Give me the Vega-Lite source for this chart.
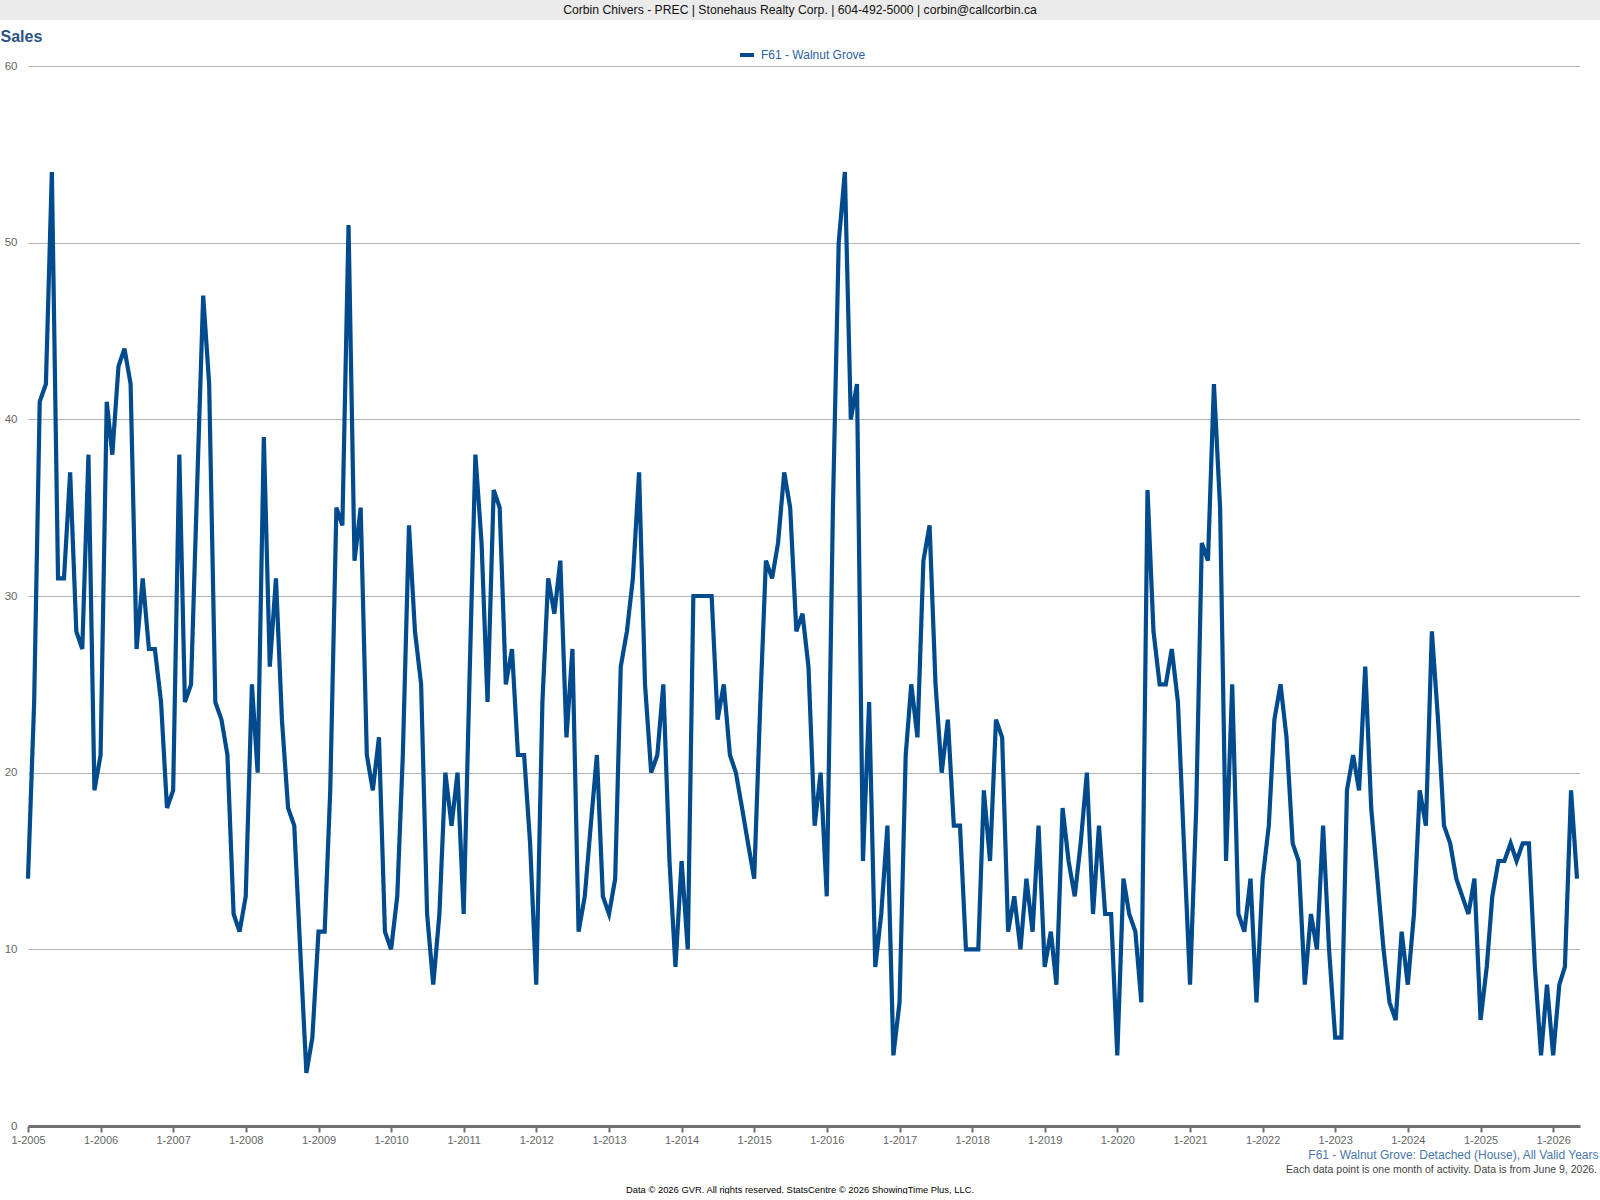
{
  "$schema": "https://vega.github.io/schema/vega-lite/v6.json",
  "background": "white",
  "padding": 0,
  "config": {"font": "Liberation Sans", "view": {"stroke": null}},
  "datasets": {
    "banner": [
      {"label": "Corbin Chivers - PREC | Stonehaus Realty Corp. | 604-492-5000 | corbin@callcorbin.ca"}
    ],
    "sales": [
      {"month": "2005-01-01", "sales": 14}, {"month": "2005-02-01", "sales": 24}, {"month": "2005-03-01", "sales": 41}, {"month": "2005-04-01", "sales": 42},
      {"month": "2005-05-01", "sales": 54}, {"month": "2005-06-01", "sales": 31}, {"month": "2005-07-01", "sales": 31}, {"month": "2005-08-01", "sales": 37},
      {"month": "2005-09-01", "sales": 28}, {"month": "2005-10-01", "sales": 27}, {"month": "2005-11-01", "sales": 38}, {"month": "2005-12-01", "sales": 19},
      {"month": "2006-01-01", "sales": 21}, {"month": "2006-02-01", "sales": 41}, {"month": "2006-03-01", "sales": 38}, {"month": "2006-04-01", "sales": 43},
      {"month": "2006-05-01", "sales": 44}, {"month": "2006-06-01", "sales": 42}, {"month": "2006-07-01", "sales": 27}, {"month": "2006-08-01", "sales": 31},
      {"month": "2006-09-01", "sales": 27}, {"month": "2006-10-01", "sales": 27}, {"month": "2006-11-01", "sales": 24}, {"month": "2006-12-01", "sales": 18},
      {"month": "2007-01-01", "sales": 19}, {"month": "2007-02-01", "sales": 38}, {"month": "2007-03-01", "sales": 24}, {"month": "2007-04-01", "sales": 25},
      {"month": "2007-05-01", "sales": 36}, {"month": "2007-06-01", "sales": 47}, {"month": "2007-07-01", "sales": 42}, {"month": "2007-08-01", "sales": 24},
      {"month": "2007-09-01", "sales": 23}, {"month": "2007-10-01", "sales": 21}, {"month": "2007-11-01", "sales": 12}, {"month": "2007-12-01", "sales": 11},
      {"month": "2008-01-01", "sales": 13}, {"month": "2008-02-01", "sales": 25}, {"month": "2008-03-01", "sales": 20}, {"month": "2008-04-01", "sales": 39},
      {"month": "2008-05-01", "sales": 26}, {"month": "2008-06-01", "sales": 31}, {"month": "2008-07-01", "sales": 23}, {"month": "2008-08-01", "sales": 18},
      {"month": "2008-09-01", "sales": 17}, {"month": "2008-10-01", "sales": 10}, {"month": "2008-11-01", "sales": 3}, {"month": "2008-12-01", "sales": 5},
      {"month": "2009-01-01", "sales": 11}, {"month": "2009-02-01", "sales": 11}, {"month": "2009-03-01", "sales": 19}, {"month": "2009-04-01", "sales": 35},
      {"month": "2009-05-01", "sales": 34}, {"month": "2009-06-01", "sales": 51}, {"month": "2009-07-01", "sales": 32}, {"month": "2009-08-01", "sales": 35},
      {"month": "2009-09-01", "sales": 21}, {"month": "2009-10-01", "sales": 19}, {"month": "2009-11-01", "sales": 22}, {"month": "2009-12-01", "sales": 11},
      {"month": "2010-01-01", "sales": 10}, {"month": "2010-02-01", "sales": 13}, {"month": "2010-03-01", "sales": 21}, {"month": "2010-04-01", "sales": 34},
      {"month": "2010-05-01", "sales": 28}, {"month": "2010-06-01", "sales": 25}, {"month": "2010-07-01", "sales": 12}, {"month": "2010-08-01", "sales": 8},
      {"month": "2010-09-01", "sales": 12}, {"month": "2010-10-01", "sales": 20}, {"month": "2010-11-01", "sales": 17}, {"month": "2010-12-01", "sales": 20},
      {"month": "2011-01-01", "sales": 12}, {"month": "2011-02-01", "sales": 26}, {"month": "2011-03-01", "sales": 38}, {"month": "2011-04-01", "sales": 33},
      {"month": "2011-05-01", "sales": 24}, {"month": "2011-06-01", "sales": 36}, {"month": "2011-07-01", "sales": 35}, {"month": "2011-08-01", "sales": 25},
      {"month": "2011-09-01", "sales": 27}, {"month": "2011-10-01", "sales": 21}, {"month": "2011-11-01", "sales": 21}, {"month": "2011-12-01", "sales": 16},
      {"month": "2012-01-01", "sales": 8}, {"month": "2012-02-01", "sales": 24}, {"month": "2012-03-01", "sales": 31}, {"month": "2012-04-01", "sales": 29},
      {"month": "2012-05-01", "sales": 32}, {"month": "2012-06-01", "sales": 22}, {"month": "2012-07-01", "sales": 27}, {"month": "2012-08-01", "sales": 11},
      {"month": "2012-09-01", "sales": 13}, {"month": "2012-10-01", "sales": 17}, {"month": "2012-11-01", "sales": 21}, {"month": "2012-12-01", "sales": 13},
      {"month": "2013-01-01", "sales": 12}, {"month": "2013-02-01", "sales": 14}, {"month": "2013-03-01", "sales": 26}, {"month": "2013-04-01", "sales": 28},
      {"month": "2013-05-01", "sales": 31}, {"month": "2013-06-01", "sales": 37}, {"month": "2013-07-01", "sales": 25}, {"month": "2013-08-01", "sales": 20},
      {"month": "2013-09-01", "sales": 21}, {"month": "2013-10-01", "sales": 25}, {"month": "2013-11-01", "sales": 15}, {"month": "2013-12-01", "sales": 9},
      {"month": "2014-01-01", "sales": 15}, {"month": "2014-02-01", "sales": 10}, {"month": "2014-03-01", "sales": 30}, {"month": "2014-04-01", "sales": 30},
      {"month": "2014-05-01", "sales": 30}, {"month": "2014-06-01", "sales": 30}, {"month": "2014-07-01", "sales": 23}, {"month": "2014-08-01", "sales": 25},
      {"month": "2014-09-01", "sales": 21}, {"month": "2014-10-01", "sales": 20}, {"month": "2014-11-01", "sales": 18}, {"month": "2014-12-01", "sales": 16},
      {"month": "2015-01-01", "sales": 14}, {"month": "2015-02-01", "sales": 24}, {"month": "2015-03-01", "sales": 32}, {"month": "2015-04-01", "sales": 31},
      {"month": "2015-05-01", "sales": 33}, {"month": "2015-06-01", "sales": 37}, {"month": "2015-07-01", "sales": 35}, {"month": "2015-08-01", "sales": 28},
      {"month": "2015-09-01", "sales": 29}, {"month": "2015-10-01", "sales": 26}, {"month": "2015-11-01", "sales": 17}, {"month": "2015-12-01", "sales": 20},
      {"month": "2016-01-01", "sales": 13}, {"month": "2016-02-01", "sales": 35}, {"month": "2016-03-01", "sales": 50}, {"month": "2016-04-01", "sales": 54},
      {"month": "2016-05-01", "sales": 40}, {"month": "2016-06-01", "sales": 42}, {"month": "2016-07-01", "sales": 15}, {"month": "2016-08-01", "sales": 24},
      {"month": "2016-09-01", "sales": 9}, {"month": "2016-10-01", "sales": 12}, {"month": "2016-11-01", "sales": 17}, {"month": "2016-12-01", "sales": 4},
      {"month": "2017-01-01", "sales": 7}, {"month": "2017-02-01", "sales": 21}, {"month": "2017-03-01", "sales": 25}, {"month": "2017-04-01", "sales": 22},
      {"month": "2017-05-01", "sales": 32}, {"month": "2017-06-01", "sales": 34}, {"month": "2017-07-01", "sales": 25}, {"month": "2017-08-01", "sales": 20},
      {"month": "2017-09-01", "sales": 23}, {"month": "2017-10-01", "sales": 17}, {"month": "2017-11-01", "sales": 17}, {"month": "2017-12-01", "sales": 10},
      {"month": "2018-01-01", "sales": 10}, {"month": "2018-02-01", "sales": 10}, {"month": "2018-03-01", "sales": 19}, {"month": "2018-04-01", "sales": 15},
      {"month": "2018-05-01", "sales": 23}, {"month": "2018-06-01", "sales": 22}, {"month": "2018-07-01", "sales": 11}, {"month": "2018-08-01", "sales": 13},
      {"month": "2018-09-01", "sales": 10}, {"month": "2018-10-01", "sales": 14}, {"month": "2018-11-01", "sales": 11}, {"month": "2018-12-01", "sales": 17},
      {"month": "2019-01-01", "sales": 9}, {"month": "2019-02-01", "sales": 11}, {"month": "2019-03-01", "sales": 8}, {"month": "2019-04-01", "sales": 18},
      {"month": "2019-05-01", "sales": 15}, {"month": "2019-06-01", "sales": 13}, {"month": "2019-07-01", "sales": 16}, {"month": "2019-08-01", "sales": 20},
      {"month": "2019-09-01", "sales": 12}, {"month": "2019-10-01", "sales": 17}, {"month": "2019-11-01", "sales": 12}, {"month": "2019-12-01", "sales": 12},
      {"month": "2020-01-01", "sales": 4}, {"month": "2020-02-01", "sales": 14}, {"month": "2020-03-01", "sales": 12}, {"month": "2020-04-01", "sales": 11},
      {"month": "2020-05-01", "sales": 7}, {"month": "2020-06-01", "sales": 36}, {"month": "2020-07-01", "sales": 28}, {"month": "2020-08-01", "sales": 25},
      {"month": "2020-09-01", "sales": 25}, {"month": "2020-10-01", "sales": 27}, {"month": "2020-11-01", "sales": 24}, {"month": "2020-12-01", "sales": 16},
      {"month": "2021-01-01", "sales": 8}, {"month": "2021-02-01", "sales": 18}, {"month": "2021-03-01", "sales": 33}, {"month": "2021-04-01", "sales": 32},
      {"month": "2021-05-01", "sales": 42}, {"month": "2021-06-01", "sales": 35}, {"month": "2021-07-01", "sales": 15}, {"month": "2021-08-01", "sales": 25},
      {"month": "2021-09-01", "sales": 12}, {"month": "2021-10-01", "sales": 11}, {"month": "2021-11-01", "sales": 14}, {"month": "2021-12-01", "sales": 7},
      {"month": "2022-01-01", "sales": 14}, {"month": "2022-02-01", "sales": 17}, {"month": "2022-03-01", "sales": 23}, {"month": "2022-04-01", "sales": 25},
      {"month": "2022-05-01", "sales": 22}, {"month": "2022-06-01", "sales": 16}, {"month": "2022-07-01", "sales": 15}, {"month": "2022-08-01", "sales": 8},
      {"month": "2022-09-01", "sales": 12}, {"month": "2022-10-01", "sales": 10}, {"month": "2022-11-01", "sales": 17}, {"month": "2022-12-01", "sales": 10},
      {"month": "2023-01-01", "sales": 5}, {"month": "2023-02-01", "sales": 5}, {"month": "2023-03-01", "sales": 19}, {"month": "2023-04-01", "sales": 21},
      {"month": "2023-05-01", "sales": 19}, {"month": "2023-06-01", "sales": 26}, {"month": "2023-07-01", "sales": 18}, {"month": "2023-08-01", "sales": 14},
      {"month": "2023-09-01", "sales": 10}, {"month": "2023-10-01", "sales": 7}, {"month": "2023-11-01", "sales": 6}, {"month": "2023-12-01", "sales": 11},
      {"month": "2024-01-01", "sales": 8}, {"month": "2024-02-01", "sales": 12}, {"month": "2024-03-01", "sales": 19}, {"month": "2024-04-01", "sales": 17},
      {"month": "2024-05-01", "sales": 28}, {"month": "2024-06-01", "sales": 23}, {"month": "2024-07-01", "sales": 17}, {"month": "2024-08-01", "sales": 16},
      {"month": "2024-09-01", "sales": 14}, {"month": "2024-10-01", "sales": 13}, {"month": "2024-11-01", "sales": 12}, {"month": "2024-12-01", "sales": 14},
      {"month": "2025-01-01", "sales": 6}, {"month": "2025-02-01", "sales": 9}, {"month": "2025-03-01", "sales": 13}, {"month": "2025-04-01", "sales": 15},
      {"month": "2025-05-01", "sales": 15}, {"month": "2025-06-01", "sales": 16}, {"month": "2025-07-01", "sales": 15}, {"month": "2025-08-01", "sales": 16},
      {"month": "2025-09-01", "sales": 16}, {"month": "2025-10-01", "sales": 9}, {"month": "2025-11-01", "sales": 4}, {"month": "2025-12-01", "sales": 8},
      {"month": "2026-01-01", "sales": 4}, {"month": "2026-02-01", "sales": 8}, {"month": "2026-03-01", "sales": 9}, {"month": "2026-04-01", "sales": 19},
      {"month": "2026-05-01", "sales": 14}
    ]
  },
  "title": {
    "text": "Data © 2026 GVR. All rights reserved. StatsCentre © 2026 ShowingTime Plus, LLC.",
    "orient": "bottom",
    "anchor": "middle",
    "fontSize": 9.4,
    "fontWeight": "normal",
    "color": "#000000",
    "offset": 10
  },
  "bounds": "flush",
  "spacing": 46,
  "resolve": {"legend": {"color": "independent"}},
  "vconcat": [
    {
      "width": 1600,
      "height": 20,
      "view": {"fill": "#ebebeb", "stroke": null},
      "data": {"name": "banner"},
      "mark": {"type": "text", "fontSize": 12.2, "color": "#111111", "baseline": "middle"},
      "encoding": {"text": {"field": "label", "type": "nominal"}}
    },
    {
      "width": 1580,
      "height": 1060,
      "data": {"name": "sales"},
      "title": {
        "text": "Each data point is one month of activity. Data is from June 9, 2026.",
        "orient": "bottom",
        "anchor": "end",
        "frame": "group",
        "fontSize": 10.5,
        "fontWeight": "normal",
        "color": "#444444",
        "dx": 17,
        "offset": 5
      },
      "mark": {"type": "line", "strokeWidth": 4.2, "strokeJoin": "miter"},
      "encoding": {
        "x": {
          "field": "month",
          "type": "temporal",
          "scale": {
            "type": "utc",
            "range": [28, 1580],
            "domain": [
              {"year": 2005, "month": 1, "date": 1, "utc": true},
              {"year": 2026, "month": 5, "date": 16, "utc": true}
            ]
          },
          "axis": {
            "title": "F61 - Walnut Grove: Detached (House), All Valid Years",
            "titleColor": "#4a77ab",
            "titleFontSize": 12,
            "titleFontWeight": "normal",
            "titleAlign": "right",
            "titleAnchor": "end",
            "titleBaseline": "alphabetic",
            "titleX": 1598,
            "titleY": 32,
            "format": "%-m-%Y",
            "tickCount": {"interval": "year", "step": 1},
            "grid": false,
            "domainColor": "#707070",
            "domainWidth": 3,
            "tickColor": "#707070",
            "tickWidth": 2,
            "tickSize": 6,
            "labelColor": "#666666",
            "labelFontSize": 11,
            "labelPadding": 2,
            "labelFlush": false,
            "labelOverlap": false
          }
        },
        "y": {
          "field": "sales",
          "type": "quantitative",
          "scale": {"domain": [0, 60], "nice": false},
          "axis": {
            "title": "Sales",
            "titleAngle": 0,
            "titleAlign": "left",
            "titleBaseline": "alphabetic",
            "titleX": 0,
            "titleY": -25,
            "titleFontSize": 16,
            "titleFontWeight": "bold",
            "titleColor": "#2c5282",
            "values": [0, 10, 20, 30, 40, 50, 60],
            "domain": false,
            "ticks": false,
            "tickSize": 0,
            "labelPadding": -17,
            "labelColor": "#666666",
            "labelFontSize": 11.5,
            "gridColor": "#b4b4b4",
            "gridWidth": 1
          }
        },
        "color": {
          "datum": "F61 - Walnut Grove",
          "type": "nominal",
          "scale": {"range": ["#004b8d"]},
          "legend": {
            "title": null,
            "orient": "none",
            "legendX": 738,
            "legendY": -20,
            "labelColor": "#2d62a0",
            "labelFontSize": 12,
            "labelOffset": 5,
            "symbolType": "stroke",
            "symbolStrokeWidth": 4,
            "symbolSize": 196
          }
        }
      }
    }
  ]
}
